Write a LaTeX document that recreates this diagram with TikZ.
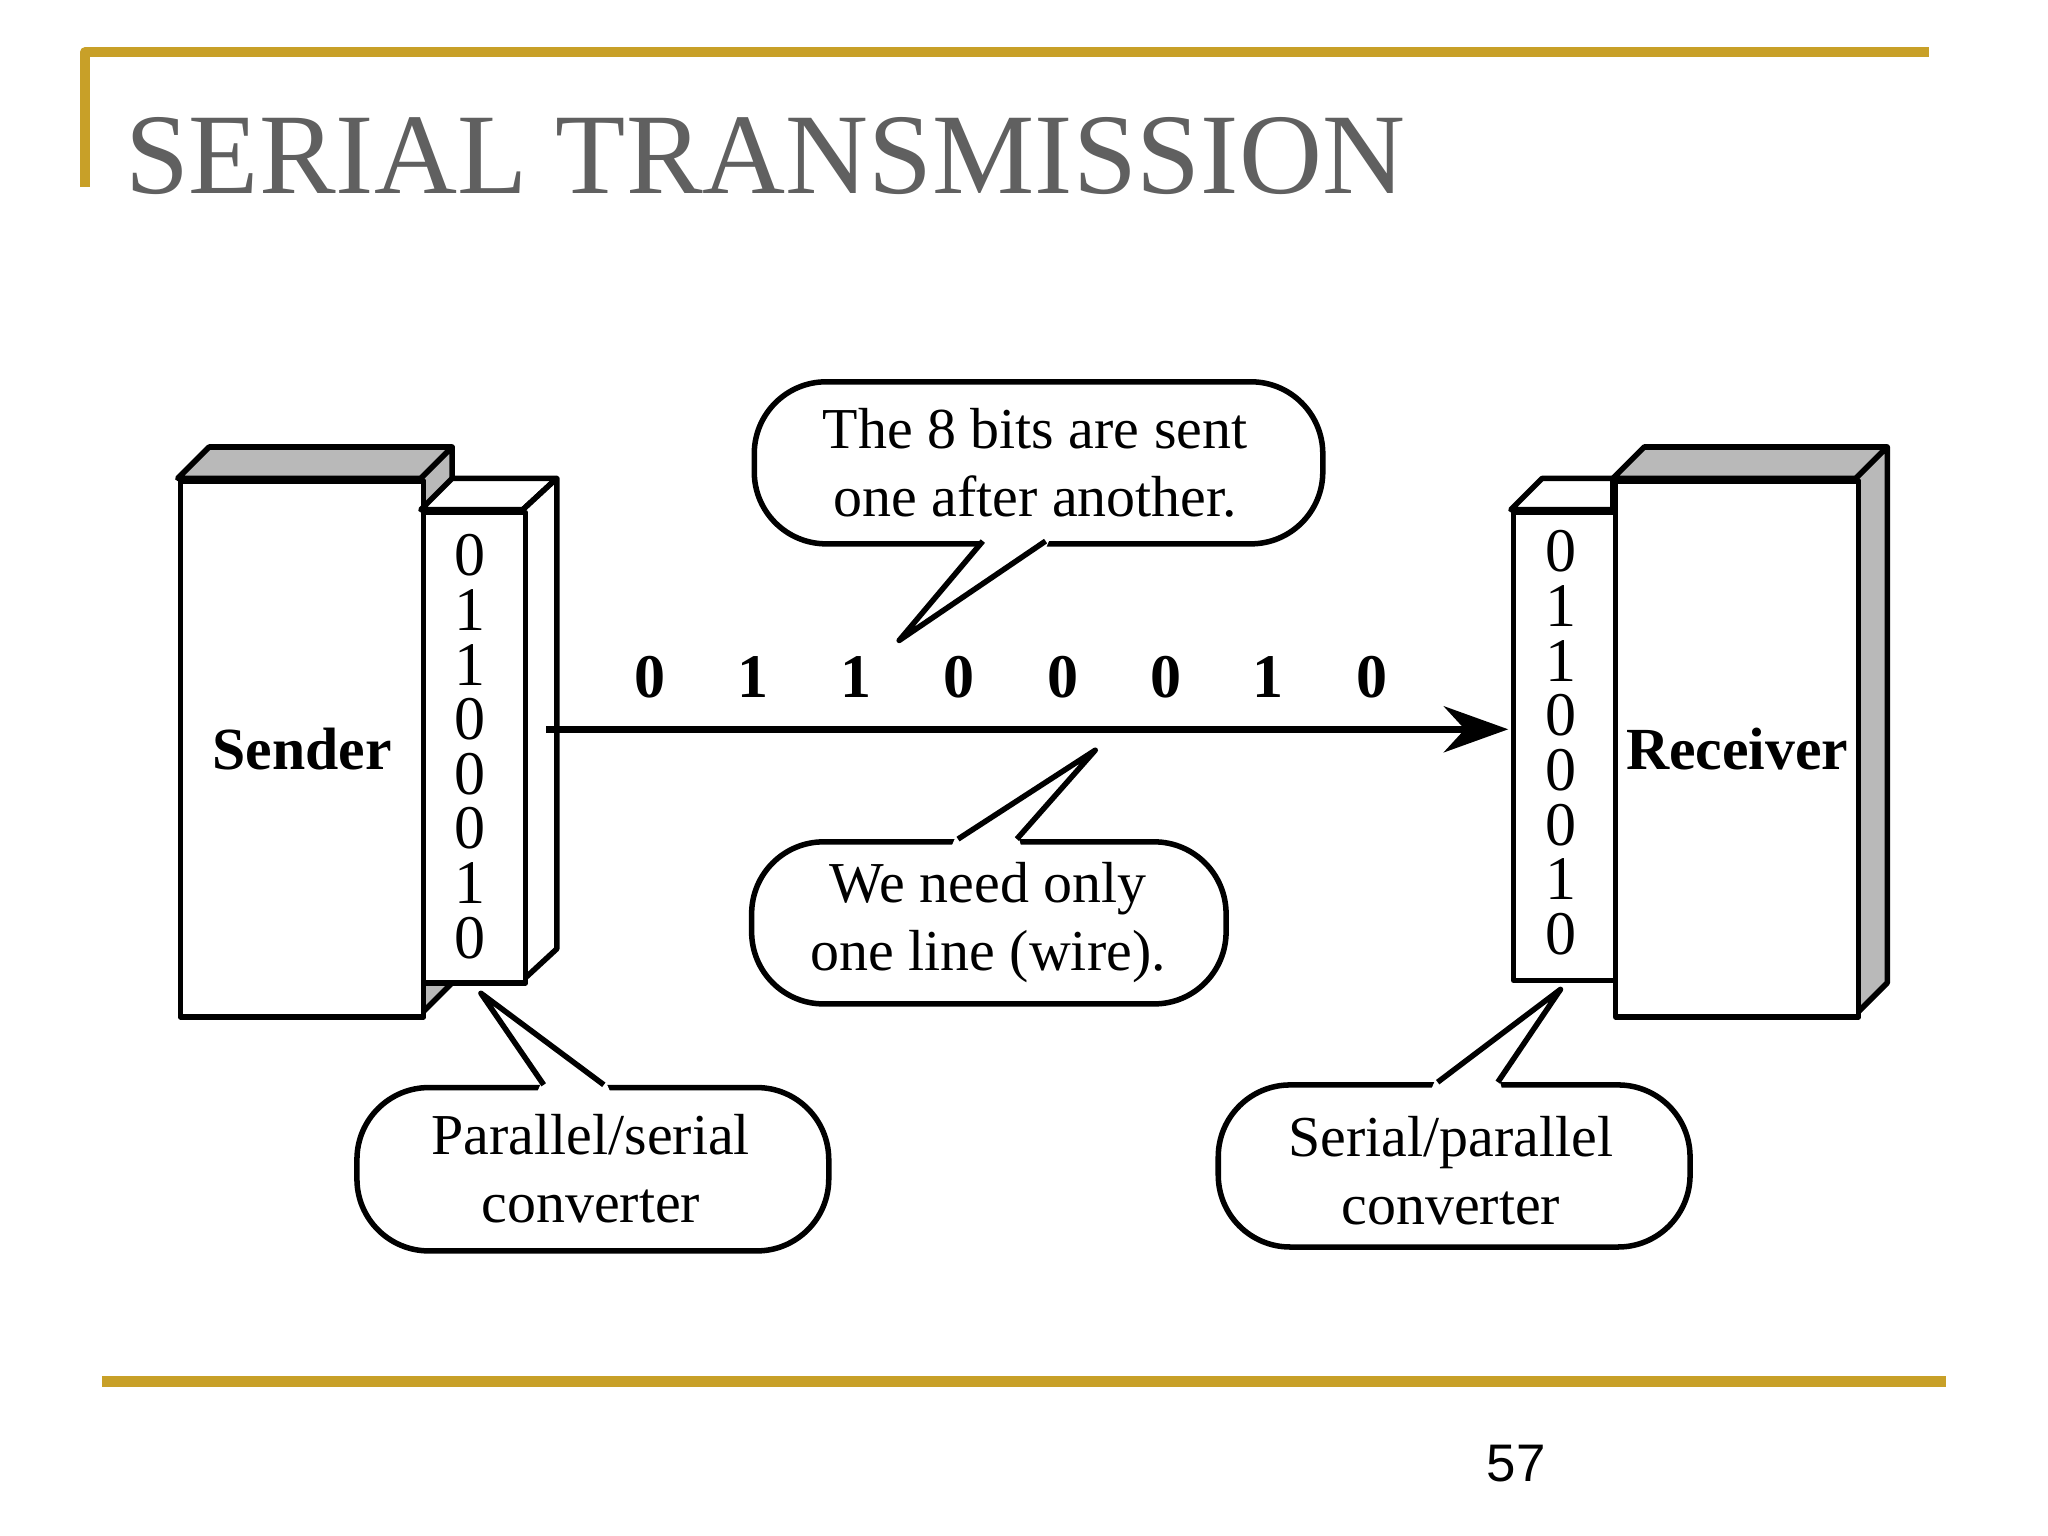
\documentclass[tikz,border=0pt]{standalone}
\usepackage{fontspec}
\usetikzlibrary{arrows.meta}
\setmainfont{Liberation Serif}
\newfontfamily\sansf{Liberation Sans}
\begin{document}
\begin{tikzpicture}[x=0.01cm,y=-0.01cm,line join=round,
  gold/.style={draw={rgb,255:red,200;green,160;blue,40},line width=2.2pt},
  box/.style={draw=black,line width=1.2pt,fill=white},
  shade/.style={draw=black,line width=1.2pt,fill=gray!55},
  txt/.style={font=\fontsize{12.6pt}{14.8pt}\selectfont,align=center},
  bit/.style={font=\fontsize{13.5pt}{16pt}\selectfont},
  bbit/.style={font=\bfseries\fontsize{13.5pt}{16pt}\selectfont},
  balloon/.style={draw=black,line width=1.2pt,fill=white,rounded corners=0.55cm,inner sep=0pt,anchor=north west}]
\useasboundingbox (0,0) rectangle (1567,1175);
\fill[white] (0,0) rectangle (1567,1175);
% frame lines
\draw[gold] (65,143) -- (65,40) -- (1476,40);
\draw[gold] (78,1057) -- (1489,1057);
\node[anchor=base west,inner sep=0pt,text={rgb,255:red,96;green,96;blue,96},font=\fontsize{25pt}{28pt}\selectfont] (title) at (95,148) {SERIAL TRANSMISSION};
\node[font=\sansf\fontsize{11.5pt}{14pt}\selectfont] (page) at (1160,1120) {57};
% sender
\draw[shade] (136,366) -- (160,342) -- (346,342) -- (322,366) -- cycle;
\draw[shade] (322,366) -- (346,342) -- (346,752) -- (322,776) -- cycle;
\node[box,minimum width=186*0.01cm,minimum height=410*0.01cm,inner sep=0pt,anchor=north west,font=\bfseries\fontsize{13pt}{16pt}\selectfont] (sender) at (136,366) {Sender};
\draw[box] (322,390) -- (346,366) -- (426,366) -- (400,390) -- cycle;
\draw[box] (400,390) -- (426,366) -- (426,726) -- (400,750) -- cycle;
\node[box,minimum width=78*0.01cm,minimum height=360*0.01cm,inner sep=0pt,anchor=north west] (pconv) at (322,390) {};
\foreach \b [count=\i from 0] in {0,1,1,0,0,0,1,0}
  \node[bit] at (360,425+\i*41.8) {\b};
% receiver
\draw[shade] (1234,366) -- (1258,342) -- (1444,342) -- (1420,366) -- cycle;
\draw[shade] (1420,366) -- (1444,342) -- (1444,752) -- (1420,776) -- cycle;
\node[box,minimum width=186*0.01cm,minimum height=410*0.01cm,inner sep=0pt,anchor=north west,font=\bfseries\fontsize{13pt}{16pt}\selectfont] (receiver) at (1234,366) {Receiver};
\draw[box] (1156,390) -- (1180,366) -- (1234,366) -- (1234,390) -- cycle;
\node[box,minimum width=78*0.01cm,minimum height=358*0.01cm,inner sep=0pt,anchor=north west] (sconv) at (1156,390) {};
\foreach \b [count=\i from 0] in {0,1,1,0,0,0,1,0}
  \node[bit] at (1194,422+\i*41.8) {\b};
% line
\coordinate (lstart) at (418,558);
\coordinate (lend) at (1154,558);
\draw[line width=1.6pt,-{Stealth[length=14pt,width=10pt]}] (lstart) -- (lend);
\foreach \b/\x in {0/497,1/576,1/655,0/734,0/813,0/892,1/970,0/1050}
  \node[bbit] at (\x,518) {\b};
% balloons
\node[balloon,minimum width=435*0.01cm,minimum height=124*0.01cm] (c1) at (575,290) {};
\fill[white] (748,406) -- (752,420) -- (688,490) -- (800,420) -- (806,406) -- cycle;
\draw[line width=1.2pt] (752,414) -- (688,490) -- (800,414);
\node[txt] (b1) at (792,354) {The 8 bits are sent\\one after another.};
\node[balloon,minimum width=363*0.01cm,minimum height=124*0.01cm] (c2) at (573,642) {};
\fill[white] (727,650) -- (733,636) -- (838,574) -- (778,636) -- (782,650) -- cycle;
\draw[line width=1.2pt] (733,642) -- (838,574) -- (778,642);
\node[txt] (b2) at (756,706) {We need only\\one line (wire).};
\node[balloon,minimum width=361*0.01cm,minimum height=125*0.01cm] (c3) at (271,830) {};
\fill[white] (410,838) -- (416,824) -- (368,760) -- (462,824) -- (468,838) -- cycle;
\draw[line width=1.2pt] (416,830) -- (368,760) -- (462,830);
\node[txt] (b3) at (452,894) {Parallel/serial\\converter};
\node[balloon,minimum width=361*0.01cm,minimum height=124*0.01cm] (c4) at (930,828) {};
\fill[white] (1094,836) -- (1100,822) -- (1194,757) -- (1146,822) -- (1150,836) -- cycle;
\draw[line width=1.2pt] (1100,828) -- (1194,757) -- (1146,828);
\node[txt] (b4) at (1110,896) {Serial/parallel\\converter};
\end{tikzpicture}
\end{document}
